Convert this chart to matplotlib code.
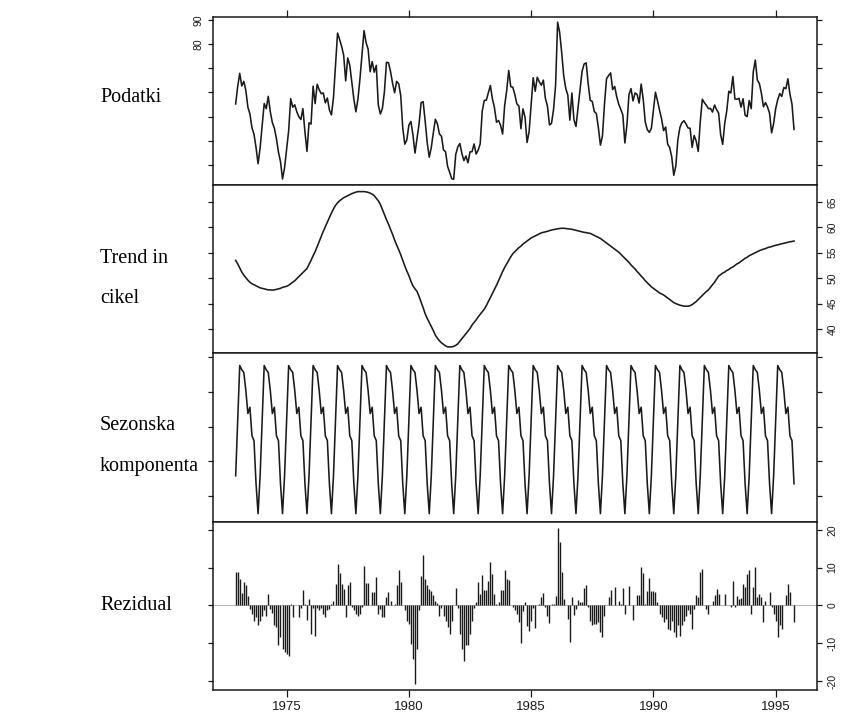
import numpy as np
import matplotlib
matplotlib.use("Agg")
import matplotlib.pyplot as plt

# ---------------- data (monthly, starting Dec 1972) ----------------
start_year = 1972 + 11 / 12

trend = [
    53.5, 52.8, 52.0, 51.2, 50.6, 50.1, 49.6, 49.2, 48.9, 48.7, 48.5, 48.3,
    48.1, 48.0, 47.9, 47.8, 47.7, 47.7, 47.65, 47.7, 47.8, 47.9, 48.0, 48.2,
    48.3, 48.4, 48.6, 48.9, 49.2, 49.5, 49.9, 50.3, 50.7, 51.1, 51.5, 51.9,
    52.7, 53.5, 54.4, 55.2, 56.2, 57.2, 58.2, 59.2, 60.1, 61.0, 61.9, 62.8,
    63.6, 64.3, 64.8, 65.2, 65.5, 65.8, 66.0, 66.2, 66.4, 66.6, 66.75, 66.9,
    67.0, 67.0, 67.0, 67.0, 66.95, 66.85, 66.7, 66.5, 66.2, 65.7, 65.2, 64.5,
    63.5, 62.5, 61.5, 60.6, 59.6, 58.6, 57.5, 56.5, 55.6, 54.6, 53.5, 52.4,
    51.4, 50.5, 49.4, 48.5, 47.9, 47.4, 46.4, 45.3, 44.2, 43.0, 42.1, 41.3,
    40.5, 39.7, 38.8, 38.2, 37.7, 37.3, 37.0, 36.7, 36.5, 36.5, 36.5, 36.6,
    36.8, 37.1, 37.6, 38.1, 38.6, 39.1, 39.6, 40.1, 40.8, 41.3, 41.8, 42.4,
    42.9, 43.4, 43.9, 44.6, 45.4, 46.2, 47.0, 47.8, 48.6, 49.5, 50.4, 51.3,
    52.1, 52.8, 53.5, 54.2, 54.8, 55.2, 55.6, 56.0, 56.3, 56.7, 57.0, 57.3,
    57.6, 57.9, 58.1, 58.3, 58.5, 58.7, 58.9, 59.0, 59.1, 59.2, 59.35, 59.45,
    59.55, 59.6, 59.7, 59.75, 59.8, 59.8, 59.75, 59.7, 59.65, 59.6, 59.5, 59.4,
    59.3, 59.2, 59.1, 59.0, 58.95, 58.85, 58.8, 58.6, 58.4, 58.2, 58.0, 57.8,
    57.5, 57.2, 56.9, 56.6, 56.3, 56.0, 55.7, 55.4, 55.1, 54.7, 54.3, 53.9,
    53.5, 53.1, 52.6, 52.2, 51.8, 51.3, 50.9, 50.4, 50.0, 49.5, 49.1, 48.7,
    48.3, 48.0, 47.7, 47.4, 47.1, 46.9, 46.7, 46.4, 46.1, 45.8, 45.5, 45.2,
    45.0, 44.85, 44.7, 44.6, 44.5, 44.5, 44.5, 44.6, 44.8, 45.1, 45.4, 45.8,
    46.2, 46.6, 47.0, 47.4, 47.7, 48.2, 48.7, 49.2, 49.8, 50.4, 50.7, 51.0,
    51.2, 51.5, 51.7, 52.0, 52.2, 52.5, 52.8, 53.0, 53.3, 53.6, 53.9, 54.1,
    54.4, 54.6, 54.8, 55.0, 55.2, 55.4, 55.55, 55.7, 55.8, 56.0, 56.1, 56.2,
    56.35, 56.45, 56.55, 56.65, 56.75, 56.85, 56.95, 57.05, 57.15, 57.2, 57.3,
]

# one year of the (constant) seasonal component, from the first month of the series
seasonal_year = [-7.05, 0.9, 8.8, 8.2, 7.8, 5.2, 1.9, 2.8, -1.3, -2.0, -8.2, -12.5]

remainder = [
    8.8, 8.8, 7.1, 3.3, 6.2, 5.5, 2.4, -0.9, -2.2, -4.0, -3.1, -5.3,
    -4.0, -2.7, -1.3, -2.7, 2.9, -0.9, -2.0, -5.3, -5.6, -10.6, -8.4, -11.5,
    -12.4, -12.8, -13.3, 0.3, -3.1, 0.2, 0.2, -3.1, -0.6, 4.2, 0.4, -3.8,
    1.8, -7.5, -0.6, -8.0, -0.6, -1.3, -0.6, -2.2, -3.1, -1.3, -0.9, 0.4,
    1.3, 5.8, 11.0, 8.6, 5.8, 4.4, -3.1, 5.3, 6.2, -0.3, -1.3, -2.4,
    -2.7, -2.2, -0.4, 10.4, 5.9, 5.9, 0.0, 3.5, 3.5, 7.5, -2.2, -0.9,
    -3.1, -3.1, 2.2, 3.5, 1.3, 0.0, 0.5, 5.3, 9.3, 6.2, 0.0, -1.3,
    -4.0, -4.9, -10.2, -14.2, -20.8, -11.5, -1.3, 7.7, 13.3, 7.1, 5.3, 4.4,
    3.8, 2.7, 1.3, 0.6, -2.7, -0.6, -2.7, -4.0, -5.8, -7.5, -4.0, 0.0,
    4.6, -0.6, -7.5, -11.5, -14.6, -10.6, -10.6, -7.5, -4.0, -0.6, 0.9, 6.2,
    2.9, 8.0, 4.0, 4.0, 6.6, 11.5, 8.4, 3.1, 0.4, 0.9, 4.2, 4.0,
    9.5, 7.1, 6.8, 0.0, -0.4, -1.3, -2.2, -4.4, -10.0, -1.5, 1.0, -5.5,
    -6.8, -4.0, -0.8, -6.0, 0.0, 0.5, 2.2, 3.3, -0.3, -2.8, -4.6, 0.3,
    0.5, 2.5, 20.6, 16.9, 8.9, 1.8, 0.0, -3.6, -9.8, 2.2, -2.6, -1.0,
    1.4, 1.0, 0.9, 4.6, 5.5, -0.5, -4.0, -5.1, -5.0, -4.9, -4.4, -7.1,
    -8.4, -2.8, 0.0, 2.2, 4.0, 0.0, 4.9, 0.0, 1.3, 0.3, 4.6, -2.3,
    0.0, 5.1, 0.2, -3.9, 0.2, 2.7, 2.8, 10.3, 8.5, 0.3, 3.7, 7.3,
    3.9, 3.7, 3.6, 1.0, -2.2, -3.0, -4.4, -3.5, -6.2, -6.6, -4.0, -7.0,
    -8.4, -5.3, -8.0, -5.3, -4.0, -2.7, -1.1, -2.2, -6.2, -0.9, 2.7, 2.3,
    8.8, 9.7, 0.0, -0.9, -2.2, 0.0, 1.3, 2.8, 4.4, 3.1, 0.0, 0.0,
    3.1, 0.0, 0.0, -0.4, 6.6, -0.4, 2.5, 1.8, 1.9, 5.8, 4.9, 8.4,
    9.3, -2.2, 4.9, 10.2, 2.2, 3.1, 2.2, -4.4, 1.3, 0.0, 3.5, -0.4,
    -2.2, -4.0, -8.4, -5.3, -6.2, 0.0, 2.7, 5.8, 3.5, 0.0, -4.4,
]

panel_labels = [["Podatki"], ["Trend in", "cikel"], ["Sezonska", "komponenta"], ["Rezidual"]]
year_ticks = [1975, 1980, 1985, 1990, 1995]
data_ticks = [30, 40, 50, 60, 70, 80, 90]
data_ticklabels = ["", "", "", "", "", "80", "90"]
trend_ticks = [40, 45, 50, 55, 60, 65]
seas_ticks = [-10, -5, 0, 5, 10]
resid_ticks = [-20, -10, 0, 10, 20]

# ---------------- derived series ----------------
n = len(trend)
t = start_year + np.arange(n) / 12.0
trend_a = np.array(trend)
seasonal_a = np.tile(seasonal_year, n // 12 + 1)[:n]
remainder_a = np.array(remainder)
data_a = trend_a + seasonal_a + remainder_a   # STL identity: data = trend + seasonal + remainder

# ---------------- figure ----------------
W, H = 866, 713
fig = plt.figure(figsize=(W / 100, H / 100), dpi=100)
fig.patch.set_facecolor("white")

INK = "#1a1a1a"
left_px, right_px = 213, 817
bounds = [(16.5, 185), (185, 353), (353, 522), (522, 690)]

axes = []
for (top_px, bot_px) in bounds:
    ax = fig.add_axes([left_px / W, 1 - bot_px / H, (right_px - left_px) / W, (bot_px - top_px) / H])
    for s in ax.spines.values():
        s.set_linewidth(1.1)
        s.set_color(INK)
    axes.append(ax)

xlim = (1971.99, 1996.69)
tick_font = dict(family="Liberation Sans")
LW = 1.15
YFS = 7.5

# panel 1: data
ax = axes[0]
ax.plot(t, data_a, color=INK, lw=LW)
ax.set_ylim(21.7, 91.45)
ax.set_yticks(data_ticks)
ax.set_yticklabels(data_ticklabels, rotation=90, va="center", fontsize=YFS, **tick_font)
ax.tick_params(axis="y", left=True, right=True, labelleft=True, labelright=False,
               direction="out", length=3.5, width=0.9, colors=INK, pad=3)
ax.set_xticks(year_ticks)
ax.tick_params(axis="x", top=True, bottom=False, labeltop=False, labelbottom=False,
               direction="out", length=5, width=0.9, colors=INK)

# panel 2: trend
ax = axes[1]
ax.plot(t, trend_a, color=INK, lw=LW)
ax.set_ylim(35.3, 68.3)
ax.set_yticks(trend_ticks)
ax.set_yticklabels([str(v) for v in trend_ticks], rotation=90, va="center", fontsize=YFS, **tick_font)
ax.tick_params(axis="y", left=True, right=True, labelleft=False, labelright=True,
               direction="out", length=3.5, width=0.9, colors=INK, pad=4)
ax.set_xticks([])

# panel 3: seasonal
ax = axes[2]
ax.plot(t, seasonal_a, color=INK, lw=LW)
ax.set_ylim(-13.7, 10.6)
ax.set_yticks(seas_ticks)
ax.tick_params(axis="y", left=True, right=True, labelleft=False, labelright=False,
               direction="out", length=3.5, width=0.9, colors=INK)
ax.set_xticks([])

# panel 4: remainder
ax = axes[3]
ax.axhline(0, color="#b0a8a0", lw=0.6, zorder=1)
ax.vlines(t, 0, remainder_a, color=INK, lw=1.0, zorder=2)
ax.set_ylim(-22.4, 22.1)
ax.set_yticks(resid_ticks)
ax.set_yticklabels([str(v) for v in resid_ticks], rotation=90, va="center", fontsize=YFS, **tick_font)
ax.tick_params(axis="y", left=True, right=True, labelleft=False, labelright=True,
               direction="out", length=3.5, width=0.9, colors=INK, pad=4)
ax.set_xticks(year_ticks)
ax.set_xticklabels([str(y) for y in year_ticks], fontsize=9.5, **tick_font)
ax.tick_params(axis="x", top=False, bottom=True, direction="out", length=5, width=0.9,
               colors=INK, pad=3)

for ax in axes:
    ax.set_xlim(*xlim)

# left-hand panel names
label_rows = [[97], [258, 298], [426, 466], [606]]
for lines, ys in zip(panel_labels, label_rows):
    for txt, y in zip(lines, ys):
        fig.text(100 / W, 1 - y / H, txt, ha="left", va="center",
                 fontsize=14.5, family="Liberation Serif", color="black")

fig.savefig("out.png", dpi=100, facecolor="white")
